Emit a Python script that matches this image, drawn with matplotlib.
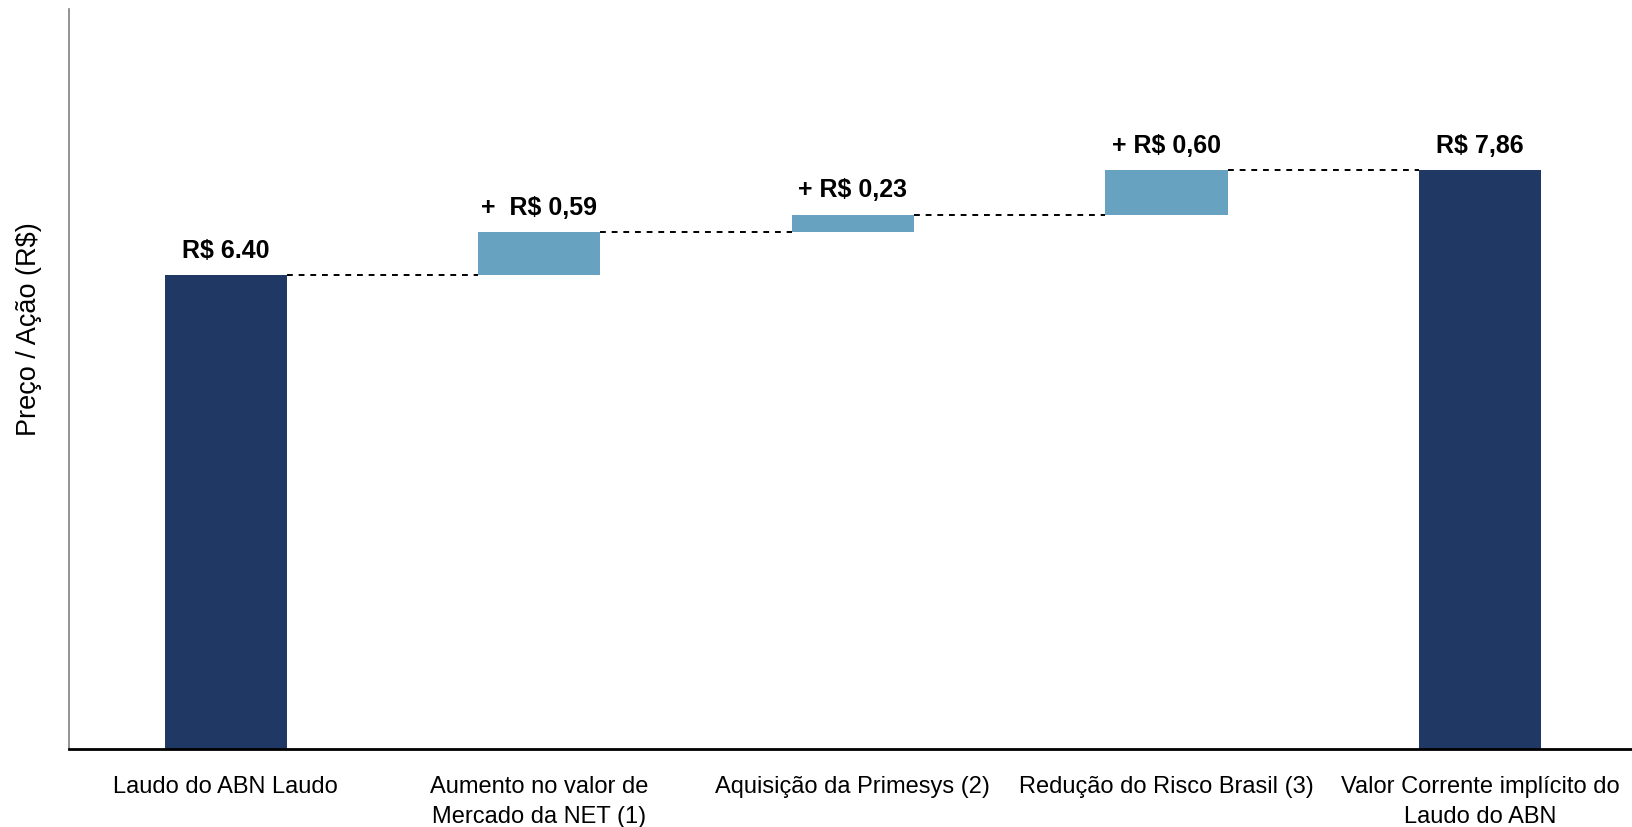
import matplotlib.pyplot as plt
import numpy as np

plt.rcParams['font.family'] = ['Liberation Sans', 'DejaVu Sans']

categories = ["Laudo do ABN Laudo", "Aumento no valor de\nMercado da NET (1)",
              "Aquisição da Primesys (2)", "Redução do Risco Brasil (3)",
              "Valor Corrente implícito do\nLaudo do ABN"]
start_value = 6.40
steps = [0.59, 0.23, 0.60]
value_labels = ["R$ 6.40", "+  R$ 0,59", "+ R$ 0,23", "+ R$ 0,60", "R$ 7,86"]

dark = '#203864'
light = '#67A3C1'

# waterfall geometry from the data
cum = np.cumsum([start_value] + steps)
total = cum[-1]
bottoms = [0] + list(cum[:-1]) + [0]
heights = [start_value] + steps + [total]
colors = [dark] + [light] * len(steps) + [dark]
tops = [b + h for b, h in zip(bottoms, heights)]

x = np.arange(len(categories))
width = 0.39

fig = plt.figure(figsize=(16.32, 8.28), dpi=100)
ax = fig.add_axes([0.0423, 0.0942, 0.9577, 0.894])

ax.bar(x, heights, bottom=bottoms, width=width, color=colors)

# dashed connectors between consecutive bar tops
for i in range(len(x) - 1):
    ax.plot([x[i] + width / 2, x[i + 1] - width / 2], [tops[i], tops[i]],
            color='black', linestyle=(0, (3, 3)), linewidth=1.4)

for xi, top, lab in zip(x, tops, value_labels):
    ax.annotate(lab, (xi, top), xytext=(0, 13), textcoords='offset points',
                ha='center', va='baseline', fontsize=18, fontweight='bold')

ax.set_xlim(-0.5, 4.485)
ax.set_ylim(0, 10)
ax.set_xticks(x)
ax.set_xticklabels(categories, fontsize=17, linespacing=1.45)
ax.tick_params(axis='x', length=0, pad=19)
ax.set_yticks([])
ax.set_ylabel("Preço / Ação (R$)", fontsize=19.5)
ax.yaxis.set_label_coords(-0.0176, 0.569)

ax.spines['top'].set_visible(False)
ax.spines['right'].set_visible(False)
ax.spines['left'].set_color('#808080')
ax.spines['left'].set_linewidth(1.2)
ax.spines['bottom'].set_color('black')
ax.spines['bottom'].set_linewidth(2)

fig.savefig('out.png', dpi=100)
